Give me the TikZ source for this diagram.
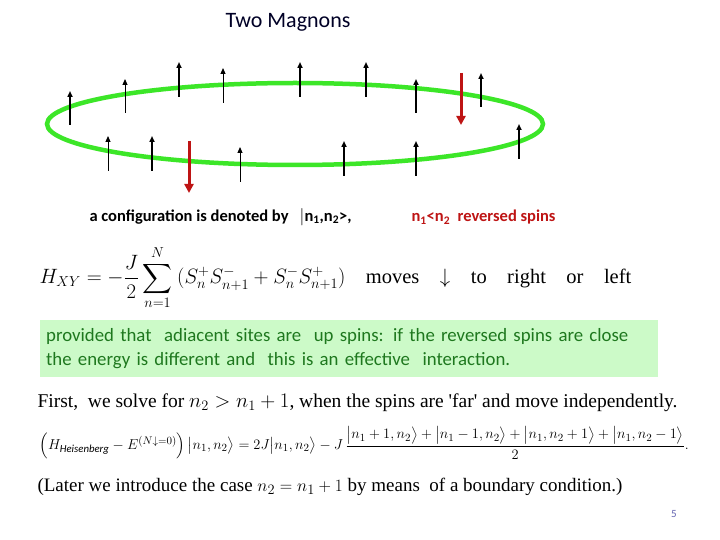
\documentclass[tikz,border=0pt]{standalone}
\usepackage{fontspec}
\usepackage{amsmath}
\setmainfont{Carlito}
\newfontfamily\serifeq{Liberation Serif}
\definecolor{ringgreen}{RGB}{60,230,40}
\definecolor{spinred}{RGB}{190,20,20}
\definecolor{boxgreen}{RGB}{204,250,200}
\definecolor{textgreen}{RGB}{30,120,30}
\tikzset{
  upspin/.style={black, line width=1.6pt, -{Triangle[length=6pt,width=5pt]}},
  thinspin/.style={black, line width=1pt, -{Triangle[length=6pt,width=5pt]}},
  downspin/.style={spinred, line width=3pt, -{Triangle[length=9pt,width=9pt]}},
}
\usetikzlibrary{arrows.meta}
\begin{document}
\begin{tikzpicture}[x=1pt,y=-1pt]
  \useasboundingbox[fill=white] (0,0) rectangle (720,540);
  % Title
  \node[font=\fontsize{22}{24}\selectfont, text=black!85!blue] (title) at (288,22) {Two Magnons};
  % Ring
  \draw[ringgreen, line width=4.5pt] (295,124) ellipse[x radius=248, y radius=41];
  % Spins behind the ring
  \foreach \x/\ya/\yb/\s in {70/125/91/upspin, 125/113/79/thinspin, 179/97/62/upspin,
      223/103/68/thinspin, 300/97/62/upspin, 366/97/62/upspin, 416/113/79/upspin,
      481/107/73/upspin, 519/159/124/upspin, 416/176/141/upspin, 344/176/141/upspin,
      240/182/147/thinspin, 152/171/136/upspin, 108/171/136/thinspin}
    \draw[\s] (\x,\ya) -- (\x,\yb);
  \draw[downspin] (461,73) -- (461,125);
  \draw[downspin] (189,141) -- (189,193);
  % Text lines
  \node[anchor=west, font=\fontsize{16.5}{18}\selectfont\bfseries] (config) at (86,217)
    {a configuration is denoted by\ \ \ $|$n\textsubscript{1},n\textsubscript{2}>,};
  \node[anchor=west, font=\fontsize{16.5}{18}\selectfont\bfseries, text=spinred] (order) at (408,217)
    {n\textsubscript{1}<n\textsubscript{2}\ \ reversed spins};
  \node[anchor=west, font=\fontsize{20.5}{22}\selectfont] (hxy) at (36,278)
    {$\displaystyle H_{XY}=-\frac{J}{2}\sum_{n=1}^{N}\ (S_n^+S_{n+1}^-+S_n^-S_{n+1}^+)$\quad
     {\serifeq moves\quad $\downarrow$\quad to\quad right\quad or\quad left}};
  % Green box
  \node[anchor=north west, fill=boxgreen, text=textgreen, text width=606pt, inner sep=6pt,
        font=\fontsize{18.8}{24}\selectfont, align=left, minimum height=57pt] (cond) at (40,320)
    {provided that\ \ adiacent sites are\ \ up spins: if the reversed spins are close\\
     the energy is different and\ \ this is an effective\ \ interaction.};
  % Lower lines
  \node[anchor=west, font=\serifeq\fontsize{19.5}{22}\selectfont] (first) at (34,403)
    {First,\ \ we solve for $n_2>n_1+1$, when the spins are 'far' and move independently.};
  \node[anchor=west, font=\fontsize{15.4}{18}\selectfont] (heis) at (36,443)
    {$\left(H_{\mathit{Heisenberg}}-E^{(N\downarrow=0)}\right)\bigl|n_1,n_2\bigr\rangle
     =2J\bigl|n_1,n_2\bigr\rangle-J\,
     \dfrac{\bigl|n_1+1,n_2\bigr\rangle+\bigl|n_1-1,n_2\bigr\rangle+\bigl|n_1,n_2+1\bigr\rangle+\bigl|n_1,n_2-1\bigr\rangle}{2}.$};
  \node[anchor=west, font=\serifeq\fontsize{19}{22}\selectfont] (later) at (34,487)
    {(Later we introduce the case $n_2=n_1+1$ by means\ \ of a boundary condition.)};
  % Page number
  \node[font=\fontsize{11}{12}\selectfont, text=black!50!blue!60] (page) at (674,514) {5};
\end{tikzpicture}
\end{document}
